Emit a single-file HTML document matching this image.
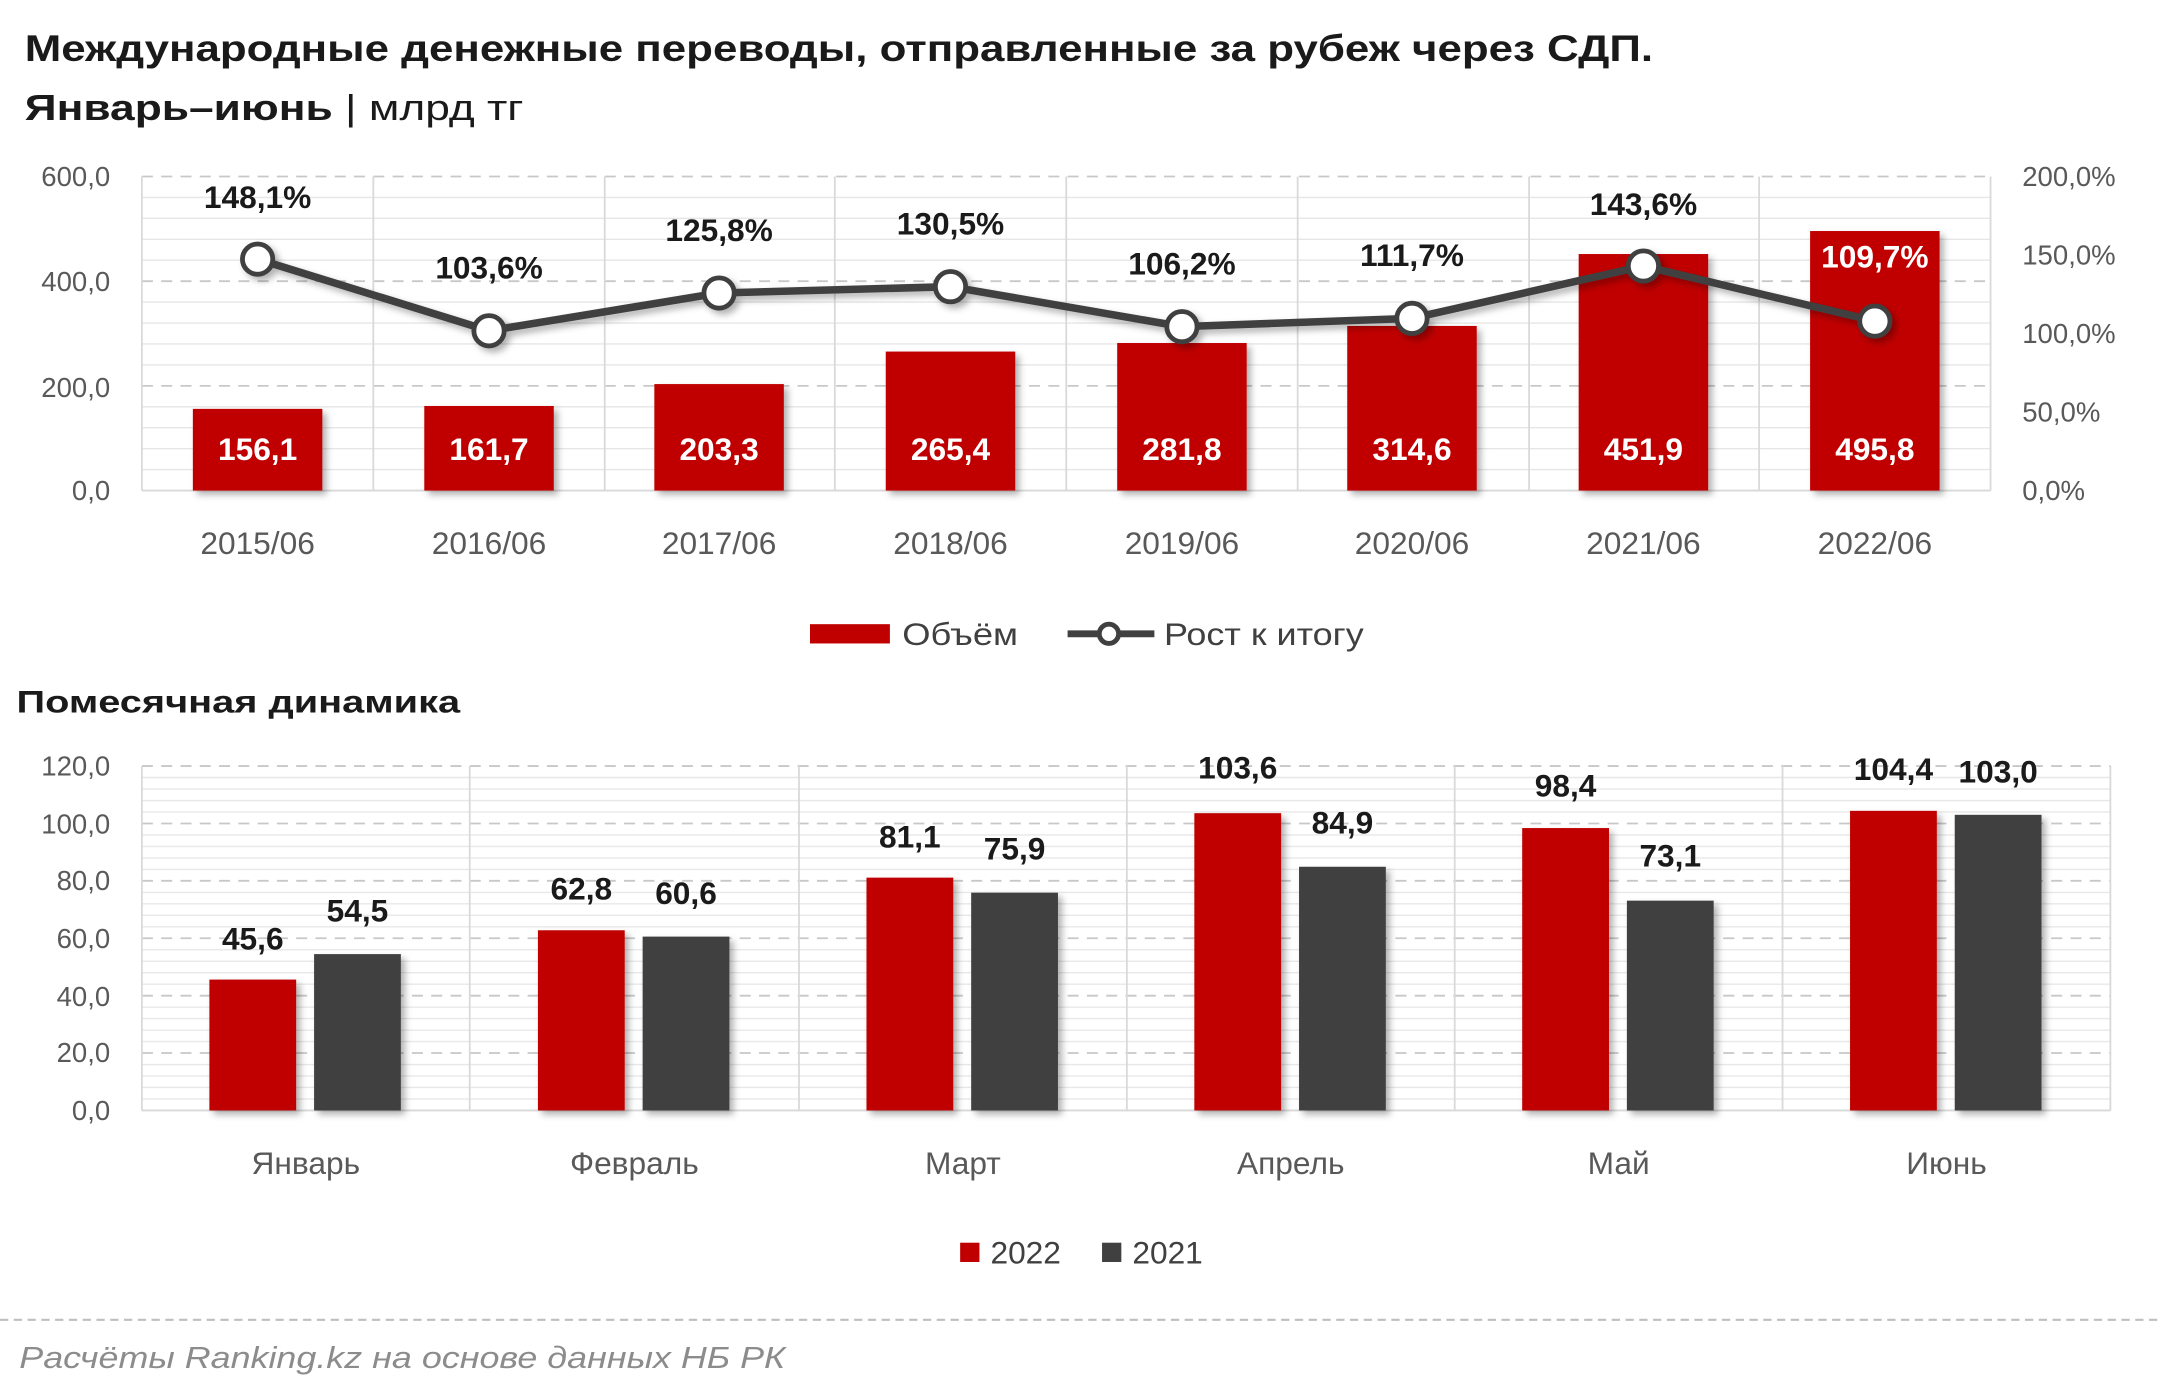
<!DOCTYPE html>
<html><head><meta charset="utf-8"><style>
html,body{margin:0;padding:0;background:#fff}
svg{display:block}
text{font-family:"Liberation Sans","DejaVu Sans",sans-serif}
</style></head><body>
<svg width="2160" height="1393" viewBox="0 0 1568 1011" xmlns="http://www.w3.org/2000/svg">
<defs>
<filter id="sh" x="-20%" y="-20%" width="150%" height="150%"><feDropShadow dx="3" dy="3" stdDeviation="2.5" flood-color="#000" flood-opacity="0.3"/></filter>
</defs>
<rect width="1568" height="1011" fill="#fff"/>
<text x="18" y="44" font-size="27" font-weight="bold" fill="#1a1a1a" textLength="1182" lengthAdjust="spacingAndGlyphs">Международные денежные переводы, отправленные за рубеж через СДП.</text>
<text x="18" y="87" font-size="26" fill="#1a1a1a" textLength="362" lengthAdjust="spacingAndGlyphs"><tspan font-weight="bold">Январь–июнь</tspan> | млрд тг</text>

<!-- top chart grid -->
<g stroke="#e6e6e6" stroke-width="1">
<line x1="103" x2="1445" y1="340.8" y2="340.8"/><line x1="103" x2="1445" y1="325.6" y2="325.6"/><line x1="103" x2="1445" y1="310.4" y2="310.4"/><line x1="103" x2="1445" y1="295.2" y2="295.2"/>
<line x1="103" x2="1445" y1="264.8" y2="264.8"/><line x1="103" x2="1445" y1="249.6" y2="249.6"/><line x1="103" x2="1445" y1="234.4" y2="234.4"/><line x1="103" x2="1445" y1="219.2" y2="219.2"/>
<line x1="103" x2="1445" y1="188.8" y2="188.8"/><line x1="103" x2="1445" y1="173.6" y2="173.6"/><line x1="103" x2="1445" y1="158.4" y2="158.4"/><line x1="103" x2="1445" y1="143.2" y2="143.2"/>
</g>
<g stroke="#c8c8c8" stroke-width="1.3" stroke-dasharray="8,6">
<line x1="103" x2="1445" y1="280" y2="280"/><line x1="103" x2="1445" y1="204" y2="204"/><line x1="103" x2="1445" y1="128" y2="128"/>
</g>
<g stroke="#d9d9d9" stroke-width="1.3">
<line x1="103" x2="103" y1="128" y2="356"/><line x1="271" x2="271" y1="128" y2="356"/><line x1="439" x2="439" y1="128" y2="356"/><line x1="606" x2="606" y1="128" y2="356"/><line x1="774" x2="774" y1="128" y2="356"/><line x1="942" x2="942" y1="128" y2="356"/><line x1="1110" x2="1110" y1="128" y2="356"/><line x1="1277" x2="1277" y1="128" y2="356"/><line x1="1445" x2="1445" y1="128" y2="356"/>
<line x1="103" x2="1445" y1="356" y2="356"/>
</g>
<g font-size="20" fill="#595959" text-anchor="end">
<text x="80" y="135">600,0</text><text x="80" y="211">400,0</text><text x="80" y="288">200,0</text><text x="80" y="363">0,0</text>
</g>
<g font-size="20" fill="#595959">
<text x="1468" y="135">200,0%</text><text x="1468" y="192">150,0%</text><text x="1468" y="249">100,0%</text><text x="1468" y="306">50,0%</text><text x="1468" y="363">0,0%</text>
</g>
<g fill="#c00000" filter="url(#sh)">
<rect x="140" y="296.7" width="94" height="59.3"/>
<rect x="308" y="294.6" width="94" height="61.4"/>
<rect x="475" y="278.7" width="94" height="77.3"/>
<rect x="643" y="255.1" width="94" height="100.9"/>
<rect x="811" y="248.9" width="94" height="107.1"/>
<rect x="978" y="236.5" width="94" height="119.5"/>
<rect x="1146" y="184.3" width="94" height="171.7"/>
<rect x="1314" y="167.6" width="94" height="188.4"/>
</g>
<g font-size="23" font-weight="bold" fill="#fff" text-anchor="middle">
<text x="187" y="334">156,1</text><text x="355" y="334">161,7</text><text x="522" y="334">203,3</text><text x="690" y="334">265,4</text><text x="858" y="334">281,8</text><text x="1025" y="334">314,6</text><text x="1193" y="334">451,9</text><text x="1361" y="334">495,8</text>
<text x="1361" y="194">109,7%</text>
</g>
<g filter="url(#sh)">
<polyline points="187,188 355,240 522,212.6 690,208 858,237 1025,231 1193,193 1361,233" fill="none" stroke="#404040" stroke-width="5.5" stroke-linejoin="round"/>
<g fill="#fff" stroke="#404040" stroke-width="3.5">
<circle cx="187" cy="188" r="11"/><circle cx="355" cy="240" r="11"/><circle cx="522" cy="212.6" r="11"/><circle cx="690" cy="208" r="11"/><circle cx="858" cy="237" r="11"/><circle cx="1025" cy="231" r="11"/><circle cx="1193" cy="193" r="11"/><circle cx="1361" cy="233" r="11"/>
</g>
</g>
<g font-size="23" font-weight="bold" fill="#1a1a1a" text-anchor="middle">
<text x="187" y="151">148,1%</text><text x="355" y="202">103,6%</text><text x="522" y="175">125,8%</text><text x="690" y="170">130,5%</text><text x="858" y="199">106,2%</text><text x="1025" y="193">111,7%</text><text x="1193" y="156">143,6%</text>
</g>
<g font-size="23" fill="#595959" text-anchor="middle">
<text x="187" y="402">2015/06</text><text x="355" y="402">2016/06</text><text x="522" y="402">2017/06</text><text x="690" y="402">2018/06</text><text x="858" y="402">2019/06</text><text x="1025" y="402">2020/06</text><text x="1193" y="402">2021/06</text><text x="1361" y="402">2022/06</text>
</g>
<rect x="588" y="453" width="58" height="14" fill="#c00000"/>
<text x="655" y="468" font-size="23" fill="#404040" textLength="84" lengthAdjust="spacingAndGlyphs">Объём</text>
<line x1="775" x2="838" y1="460" y2="460" stroke="#404040" stroke-width="5"/>
<circle cx="805" cy="460" r="7" fill="#fff" stroke="#404040" stroke-width="3.5"/>
<text x="845" y="468" font-size="23" fill="#404040" textLength="145" lengthAdjust="spacingAndGlyphs">Рост к итогу</text>

<text x="12" y="517" font-size="23" font-weight="bold" fill="#1a1a1a" textLength="322" lengthAdjust="spacingAndGlyphs">Помесячная динамика</text>

<!-- bottom chart grid -->
<g stroke="#e8e8e8" stroke-width="1">
<line x1="103" x2="1532" y1="797.7" y2="797.7"/><line x1="103" x2="1532" y1="789.3" y2="789.3"/><line x1="103" x2="1532" y1="781" y2="781"/><line x1="103" x2="1532" y1="772.7" y2="772.7"/>
<line x1="103" x2="1532" y1="756" y2="756"/><line x1="103" x2="1532" y1="747.7" y2="747.7"/><line x1="103" x2="1532" y1="739.3" y2="739.3"/><line x1="103" x2="1532" y1="731" y2="731"/>
<line x1="103" x2="1532" y1="714.3" y2="714.3"/><line x1="103" x2="1532" y1="706" y2="706"/><line x1="103" x2="1532" y1="697.7" y2="697.7"/><line x1="103" x2="1532" y1="689.3" y2="689.3"/>
<line x1="103" x2="1532" y1="672.7" y2="672.7"/><line x1="103" x2="1532" y1="664.3" y2="664.3"/><line x1="103" x2="1532" y1="656" y2="656"/><line x1="103" x2="1532" y1="647.7" y2="647.7"/>
<line x1="103" x2="1532" y1="631" y2="631"/><line x1="103" x2="1532" y1="622.7" y2="622.7"/><line x1="103" x2="1532" y1="614.3" y2="614.3"/><line x1="103" x2="1532" y1="606" y2="606"/>
<line x1="103" x2="1532" y1="589.3" y2="589.3"/><line x1="103" x2="1532" y1="581" y2="581"/><line x1="103" x2="1532" y1="572.7" y2="572.7"/><line x1="103" x2="1532" y1="564.3" y2="564.3"/>
</g>
<g stroke="#c8c8c8" stroke-width="1.3" stroke-dasharray="8,6">
<line x1="103" x2="1532" y1="764.3" y2="764.3"/><line x1="103" x2="1532" y1="722.7" y2="722.7"/><line x1="103" x2="1532" y1="681" y2="681"/><line x1="103" x2="1532" y1="639.3" y2="639.3"/><line x1="103" x2="1532" y1="597.7" y2="597.7"/><line x1="103" x2="1532" y1="556" y2="556"/>
</g>
<g stroke="#d9d9d9" stroke-width="1.3">
<line x1="103" x2="103" y1="556" y2="806"/><line x1="341" x2="341" y1="556" y2="806"/><line x1="580" x2="580" y1="556" y2="806"/><line x1="818" x2="818" y1="556" y2="806"/><line x1="1056" x2="1056" y1="556" y2="806"/><line x1="1294" x2="1294" y1="556" y2="806"/><line x1="1532" x2="1532" y1="556" y2="806"/>
<line x1="103" x2="1532" y1="806" y2="806"/>
</g>
<g font-size="20" fill="#595959" text-anchor="end">
<text x="80" y="563">120,0</text><text x="80" y="605">100,0</text><text x="80" y="646">80,0</text><text x="80" y="688">60,0</text><text x="80" y="730">40,0</text><text x="80" y="771">20,0</text><text x="80" y="813">0,0</text>
</g>
<g filter="url(#sh)">
<g fill="#c00000">
<rect x="152" y="711" width="63" height="95"/>
<rect x="390.5" y="675.2" width="63" height="130.8"/>
<rect x="629" y="637" width="63" height="169"/>
<rect x="867" y="590.2" width="63" height="215.8"/>
<rect x="1105" y="601" width="63" height="205"/>
<rect x="1343" y="588.5" width="63" height="217.5"/>
</g>
<g fill="#404040">
<rect x="228" y="692.5" width="63" height="113.5"/>
<rect x="466.5" y="679.8" width="63" height="126.2"/>
<rect x="705" y="647.9" width="63" height="158.1"/>
<rect x="943" y="629.1" width="63" height="176.9"/>
<rect x="1181" y="653.7" width="63" height="152.3"/>
<rect x="1419" y="591.4" width="63" height="214.6"/>
</g>
</g>
<g font-size="23" font-weight="bold" fill="#1a1a1a" text-anchor="middle">
<text x="183.5" y="689">45,6</text><text x="259.5" y="669">54,5</text>
<text x="422" y="653">62,8</text><text x="498" y="656">60,6</text>
<text x="660.5" y="615">81,1</text><text x="736.5" y="624">75,9</text>
<text x="898.5" y="565">103,6</text><text x="974.5" y="605">84,9</text>
<text x="1136.5" y="578">98,4</text><text x="1212.5" y="629">73,1</text>
<text x="1374.5" y="566">104,4</text><text x="1450.5" y="568">103,0</text>
</g>
<g font-size="23" fill="#595959" text-anchor="middle">
<text x="222" y="852">Январь</text><text x="460.5" y="852">Февраль</text><text x="699" y="852">Март</text><text x="937" y="852">Апрель</text><text x="1175" y="852">Май</text><text x="1413" y="852">Июнь</text>
</g>
<rect x="697" y="902" width="14" height="14" fill="#c00000"/>
<text x="719" y="917" font-size="23" fill="#404040">2022</text>
<rect x="800" y="902" width="14" height="14" fill="#404040"/>
<text x="822" y="917" font-size="23" fill="#404040">2021</text>

<line x1="0" x2="1568" y1="958" y2="958" stroke="#bfbfbf" stroke-width="1.5" stroke-dasharray="6,4"/>
<text x="14" y="993" font-size="22" font-style="italic" fill="#8c8c8c" textLength="556" lengthAdjust="spacingAndGlyphs">Расчёты Ranking.kz на основе данных НБ РК</text>
</svg>
</body></html>
